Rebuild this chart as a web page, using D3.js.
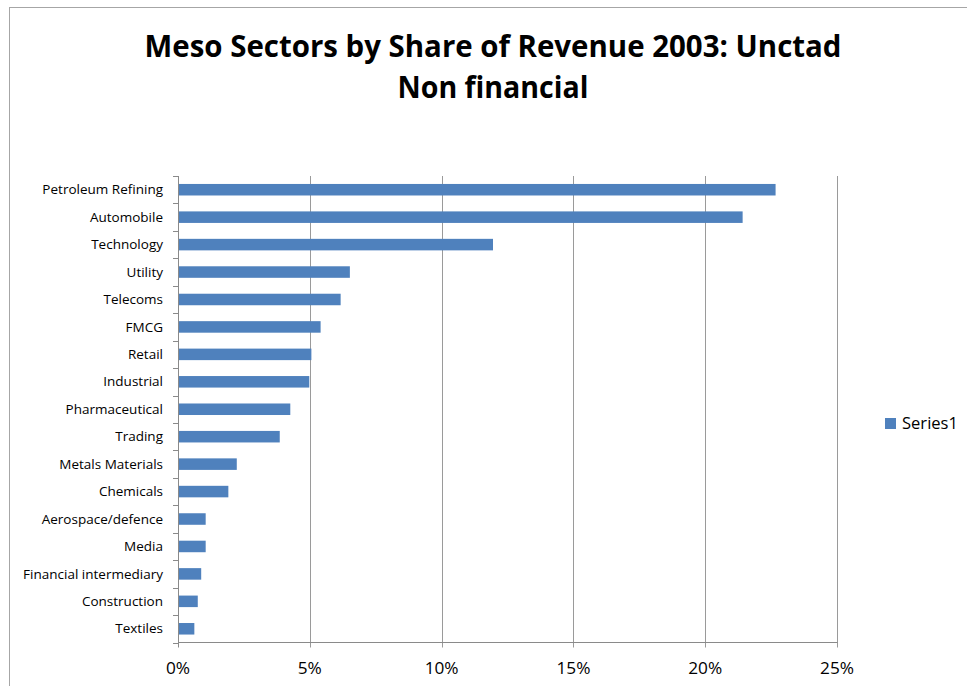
<!DOCTYPE html>
<html>
<head>
<meta charset="utf-8">
<script src="https://cdn.jsdelivr.net/npm/d3@7"></script>
<style>
  html, body { margin: 0; padding: 0; background: #fff; }
  svg { display: block; }
  text { font-family: "Open Sans", "Liberation Sans", sans-serif; fill: #000; }
</style>
</head>
<body>
<svg id="chart" width="967" height="686"></svg>
<script>
// Sector names, top to bottom
const categories = [
  "Petroleum Refining", "Automobile", "Technology", "Utility", "Telecoms",
  "FMCG", "Retail", "Industrial", "Pharmaceutical", "Trading",
  "Metals Materials", "Chemicals", "Aerospace/defence", "Media",
  "Financial intermediary", "Construction", "Textiles"
];
// Share of revenue (percent)
const shares = [
  22.67, 21.42, 11.95, 6.52, 6.17,
  5.41, 5.06, 4.98, 4.26, 3.86,
  2.23, 1.91, 1.05, 1.05,
  0.88, 0.75, 0.62
];
const xTicks = [0, 5, 10, 15, 20, 25];
const seriesName = "Series1";
const titleLines = ["Meso Sectors by Share of Revenue 2003: Unctad", "Non financial"];

const data = categories.map((c, i) => ({ category: c, value: shares[i] }));

const svg = d3.select("#chart");
const W = 967, H = 686;
const plot = { left: 178, right: 837, top: 176, bottom: 642.5 };
const barColor = "#4F81BD";
const gridColor = "#9a9a9a";
const axisColor = "#8a8a8a";

// Scale a text element horizontally so its rendered width equals target
function fitWidth(textNode, target) {
  const w = textNode.getComputedTextLength();
  if (w > 0) d3.select(textNode).attr("transform", `scale(${target / w},1)`);
}

// Chart frame
svg.append("rect")
  .attr("x", 9.5).attr("y", 7.5)
  .attr("width", W + 20).attr("height", H + 20)
  .attr("fill", "#fff").attr("stroke", "#a6a6a6").attr("stroke-width", 1);

// Title
const titleBaselines = [56.7, 98.3];
const titleWidths = [697, 191];
titleLines.forEach((line, i) => {
  const g = svg.append("g").attr("transform", `translate(493,${titleBaselines[i]})`);
  const t = g.append("text")
    .attr("text-anchor", "middle")
    .attr("font-weight", "bold")
    .attr("font-size", 30.5)
    .text(line);
  fitWidth(t.node(), titleWidths[i]);
});

// Scales
const x = d3.scaleLinear().domain([0, 25]).range([plot.left, plot.right]);
const y = d3.scaleBand().domain(categories).range([plot.top, plot.bottom]).padding(0);
const barFrac = 0.42;

// Vertical gridlines (with their tick stubs below the axis)
svg.append("g").selectAll("line")
  .data(xTicks.filter(t => t > 0))
  .join("line")
  .attr("x1", d => Math.round(x(d)) + 0.5).attr("x2", d => Math.round(x(d)) + 0.5)
  .attr("y1", plot.top).attr("y2", plot.bottom + 5)
  .attr("stroke", gridColor).attr("stroke-width", 1);

// Bars
svg.append("g").selectAll("rect")
  .data(data)
  .join("rect")
  .attr("x", x(0))
  .attr("y", d => y(d.category) + y.bandwidth() * (1 - barFrac) / 2)
  .attr("width", d => x(d.value) - x(0))
  .attr("height", y.bandwidth() * barFrac)
  .attr("fill", barColor);

// Vertical (category) axis
const yAxisG = svg.append("g");
yAxisG.append("line")
  .attr("x1", plot.left + 0.5).attr("x2", plot.left + 0.5)
  .attr("y1", plot.top).attr("y2", plot.bottom)
  .attr("stroke", axisColor);
const boundaries = categories.map(c => y(c)).concat([plot.bottom]);
yAxisG.selectAll("line.tick")
  .data(boundaries)
  .join("line").attr("class", "tick")
  .attr("x1", plot.left - 5).attr("x2", plot.left + 0.5)
  .attr("y1", d => Math.round(d) + 0.5).attr("y2", d => Math.round(d) + 0.5)
  .attr("stroke", axisColor);

// Category labels, narrowed so the longest matches its measured width
const labelSize = 13;
const labelG = svg.append("g");
const labels = labelG.selectAll("g")
  .data(categories)
  .join("g")
  .attr("transform", d => `translate(163,${y(d) + y.bandwidth() / 2})`)
  .append("text")
  .attr("text-anchor", "end")
  .attr("dy", "0.36em")
  .attr("font-size", labelSize)
  .text(d => d);
let maxW = 0;
labels.each(function () { maxW = Math.max(maxW, this.getComputedTextLength()); });
const labelK = 140 / maxW;
labels.attr("transform", `scale(${labelK},1)`);

// Horizontal (value) axis
const xAxisG = svg.append("g");
xAxisG.append("line")
  .attr("x1", plot.left).attr("x2", plot.right + 0.5)
  .attr("y1", plot.bottom).attr("y2", plot.bottom)
  .attr("stroke", axisColor);
xAxisG.append("line")
  .attr("x1", plot.left + 0.5).attr("x2", plot.left + 0.5)
  .attr("y1", plot.bottom).attr("y2", plot.bottom + 5)
  .attr("stroke", axisColor);
const tickTexts = xAxisG.selectAll("g.tl")
  .data(xTicks)
  .join("g").attr("class", "tl")
  .attr("transform", d => `translate(${x(d)},674)`)
  .append("text")
  .attr("text-anchor", "middle")
  .attr("font-size", 15.5)
  .text(d => d + "%");
const refW = tickTexts.filter(d => d === 25).node().getComputedTextLength();
tickTexts.attr("transform", `scale(${34 / refW},1)`);

// Legend
const legend = svg.append("g").attr("transform", "translate(885,418)");
legend.append("rect")
  .attr("width", 11).attr("height", 11)
  .attr("fill", barColor);
const legendText = legend.append("g").attr("transform", "translate(17,11)")
  .append("text")
  .attr("font-size", 16.5)
  .text(seriesName);
fitWidth(legendText.node(), 56);
</script>
</body>
</html>
